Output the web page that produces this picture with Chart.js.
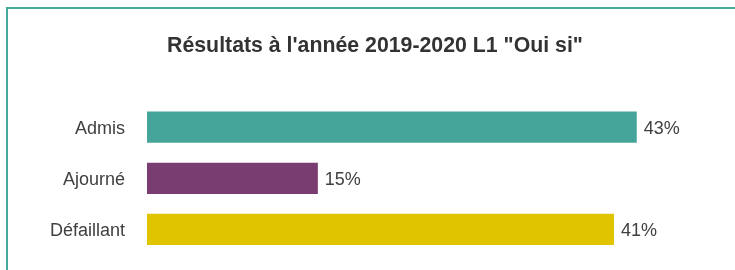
<!DOCTYPE html>
<html>
<head>
<meta charset="utf-8">
<script src="https://cdn.jsdelivr.net/npm/chart.js@4"></script>
<style>
  html, body { margin: 0; padding: 0; background: #fff; overflow: hidden; }
  body { width: 735px; height: 270px; position: relative; }
  #frame { position: absolute; left: 6px; top: 7px; width: 900px; height: 400px;
           border: 2px solid #48a99d; box-sizing: border-box; }
  #wrap { position: absolute; left: 0; top: 0; width: 735px; height: 270px; }
</style>
</head>
<body>
<div id="frame"></div>
<div id="wrap"><canvas id="c" width="735" height="270"></canvas></div>
<script>
const titleText = 'Résultats à l\'année 2019-2020 L1 "Oui si"';
const categories = ['Admis', 'Ajourné', 'Défaillant'];
const values = [43, 15, 41];
const barColors = ['#45a59a', '#7a3d71', '#e1c400'];

const valueLabels = {
  id: 'valueLabels',
  afterDatasetsDraw(chart) {
    const ctx = chart.ctx;
    const meta = chart.getDatasetMeta(0);
    ctx.save();
    ctx.font = '18px "Liberation Sans", Arial, sans-serif';
    ctx.fillStyle = '#404040';
    ctx.textAlign = 'left';
    ctx.textBaseline = 'middle';
    meta.data.forEach((bar, i) => {
      ctx.fillText(values[i] + '%', bar.x + 7, bar.y + 1.5);
    });
    ctx.restore();
  }
};

new Chart(document.getElementById('c'), {
  type: 'bar',
  data: {
    labels: categories,
    datasets: [{
      data: values,
      backgroundColor: barColors,
      borderWidth: 0,
      barPercentage: 0.61,
      categoryPercentage: 1
    }]
  },
  options: {
    indexAxis: 'y',
    responsive: false,
    animation: false,
    devicePixelRatio: 1,
    layout: { padding: { left: 33.5, right: 18.5, top: 0, bottom: 15 } },
    plugins: {
      legend: { display: false },
      tooltip: { enabled: false },
      title: {
        display: true,
        text: titleText,
        color: '#333333',
        font: { family: '"Liberation Sans", Arial, sans-serif', size: 21.3, weight: 'bold' },
        padding: { top: 33, bottom: 43 }
      }
    },
    scales: {
      x: { display: false, min: 0, max: 50 },
      y: {
        grid: { display: false, drawTicks: false },
        border: { display: false },
        ticks: {
          color: '#404040',
          padding: 22,
          labelOffset: 1.5,
          font: { family: '"Liberation Sans", Arial, sans-serif', size: 18 }
        },
        afterFit(scale) { scale.width = 113.5; scale.paddingTop = 0; scale.paddingBottom = 0; }
      }
    }
  },
  plugins: [valueLabels]
});
</script>
</body>
</html>
